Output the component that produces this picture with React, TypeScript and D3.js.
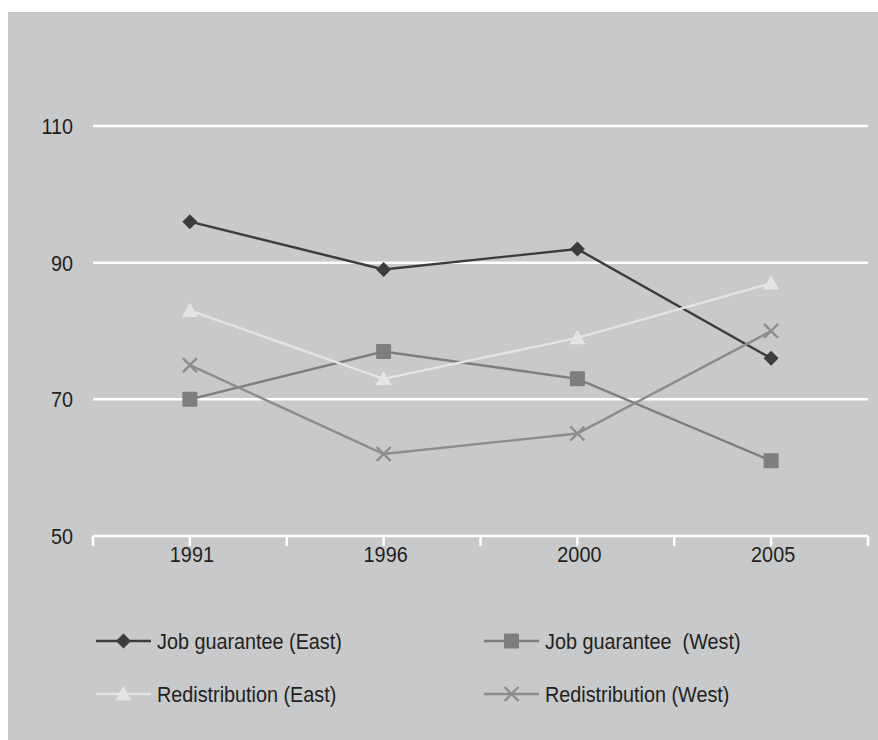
import React from "react";
import * as d3 from "d3";

const years = ["1991", "1996", "2000", "2005"];
const jobEast = [96, 89, 92, 76];
const jobWest = [70, 77, 73, 61];
const redistEast = [83, 73, 79, 87];
const redistWest = [75, 62, 65, 80];
const yTicks = [50, 70, 90, 110];

const seriesList = [
  { name: "Job guarantee (East)", values: jobEast, color: "#3c3c3e", marker: "diamond" },
  { name: "Job guarantee  (West)", values: jobWest, color: "#7e7e80", marker: "square" },
  { name: "Redistribution (East)", values: redistEast, color: "#e4e4e5", marker: "triangle" },
  { name: "Redistribution (West)", values: redistWest, color: "#8c8c8e", marker: "cross" },
];

const W = 878;
const H = 740;
const left = 93;
const right = 868;
const top = 126;
const bottom = 536;

const x = d3.scaleLinear().domain([0, 8]).range([left, right]);
const y = d3.scaleLinear().domain([50, 110]).range([bottom, top]);
const xPos = (i: number) => x(i * 2 + 1);

const FONT = "'Liberation Sans', Arial, sans-serif";
const FS = 22.5;
const SX = 0.88;
const TEXT_COLOR = "#231f20";

function NarrowText({
  x: tx,
  y: ty,
  anchor,
  children,
}: {
  x: number;
  y: number;
  anchor: "start" | "middle" | "end";
  children: string;
}) {
  return (
    <text
      transform={`translate(${tx},${ty}) scale(${SX},1)`}
      dy="0.36em"
      textAnchor={anchor}
      fontSize={FS}
      fontFamily={FONT}
      fill={TEXT_COLOR}
      style={{ whiteSpace: "pre" }}
    >
      {children}
    </text>
  );
}

function Marker({ type, cx, cy, color }: { type: string; cx: number; cy: number; color: string }) {
  if (type === "diamond") {
    const s = 7.5;
    return <path d={`M${cx},${cy - s}L${cx + s},${cy}L${cx},${cy + s}L${cx - s},${cy}Z`} fill={color} />;
  }
  if (type === "square") {
    const s = 7.5;
    return <rect x={cx - s} y={cy - s} width={2 * s} height={2 * s} rx={1} fill={color} />;
  }
  if (type === "triangle") {
    const s = 8;
    return <path d={`M${cx},${cy - s}L${cx + s},${cy + s * 0.8}L${cx - s},${cy + s * 0.8}Z`} fill={color} />;
  }
  const s = 7;
  return (
    <path
      d={`M${cx - s},${cy - s}L${cx + s},${cy + s}M${cx - s},${cy + s}L${cx + s},${cy - s}`}
      stroke={color}
      strokeWidth={2.4}
      fill="none"
    />
  );
}

export default function App() {
  const line = d3
    .line<number>()
    .x((_, i) => xPos(i))
    .y((d) => y(d));
  const legendPos = [
    { lx: 96, ly: 641 },
    { lx: 484, ly: 641 },
    { lx: 96, ly: 694 },
    { lx: 484, ly: 694 },
  ];
  const xTickVals = d3.range(0, 9);
  return (
    <svg width={W} height={H} style={{ position: "absolute", left: 0, top: 0, display: "block" }}>
      <rect x={0} y={0} width={W} height={H} fill="#ffffff" />
      <rect x={8} y={12} width={W - 8} height={H - 12} fill="#c8c9cb" />
      {yTicks.map((t) => (
        <g key={t}>
          {t !== 50 && <line x1={left} x2={right} y1={y(t)} y2={y(t)} stroke="#ffffff" strokeWidth={2.5} />}
          <NarrowText x={73} y={y(t)} anchor="end">
            {String(t)}
          </NarrowText>
        </g>
      ))}
      <line x1={left} x2={right} y1={bottom} y2={bottom} stroke="#ffffff" strokeWidth={2.5} />
      {xTickVals.map((v) => (
        <line key={v} x1={x(v)} x2={x(v)} y1={bottom} y2={bottom + 10} stroke="#ffffff" strokeWidth={2.5} />
      ))}
      {years.map((yr, i) => (
        <NarrowText key={yr} x={xPos(i) + 2} y={554} anchor="middle">
          {yr}
        </NarrowText>
      ))}
      {seriesList.map((s) => (
        <g key={s.name}>
          <path d={line(s.values) || ""} fill="none" stroke={s.color} strokeWidth={2.4} />
          {s.values.map((v, i) => (
            <Marker key={i} type={s.marker} cx={xPos(i)} cy={y(v)} color={s.color} />
          ))}
        </g>
      ))}
      {seriesList.map((s, k) => {
        const { lx, ly } = legendPos[k];
        return (
          <g key={s.name}>
            <line x1={lx} x2={lx + 55} y1={ly} y2={ly} stroke={s.color} strokeWidth={2.4} />
            <Marker type={s.marker} cx={lx + 27.5} cy={ly} color={s.color} />
            <NarrowText x={lx + 61} y={ly} anchor="start">
              {s.name}
            </NarrowText>
          </g>
        );
      })}
    </svg>
  );
}
